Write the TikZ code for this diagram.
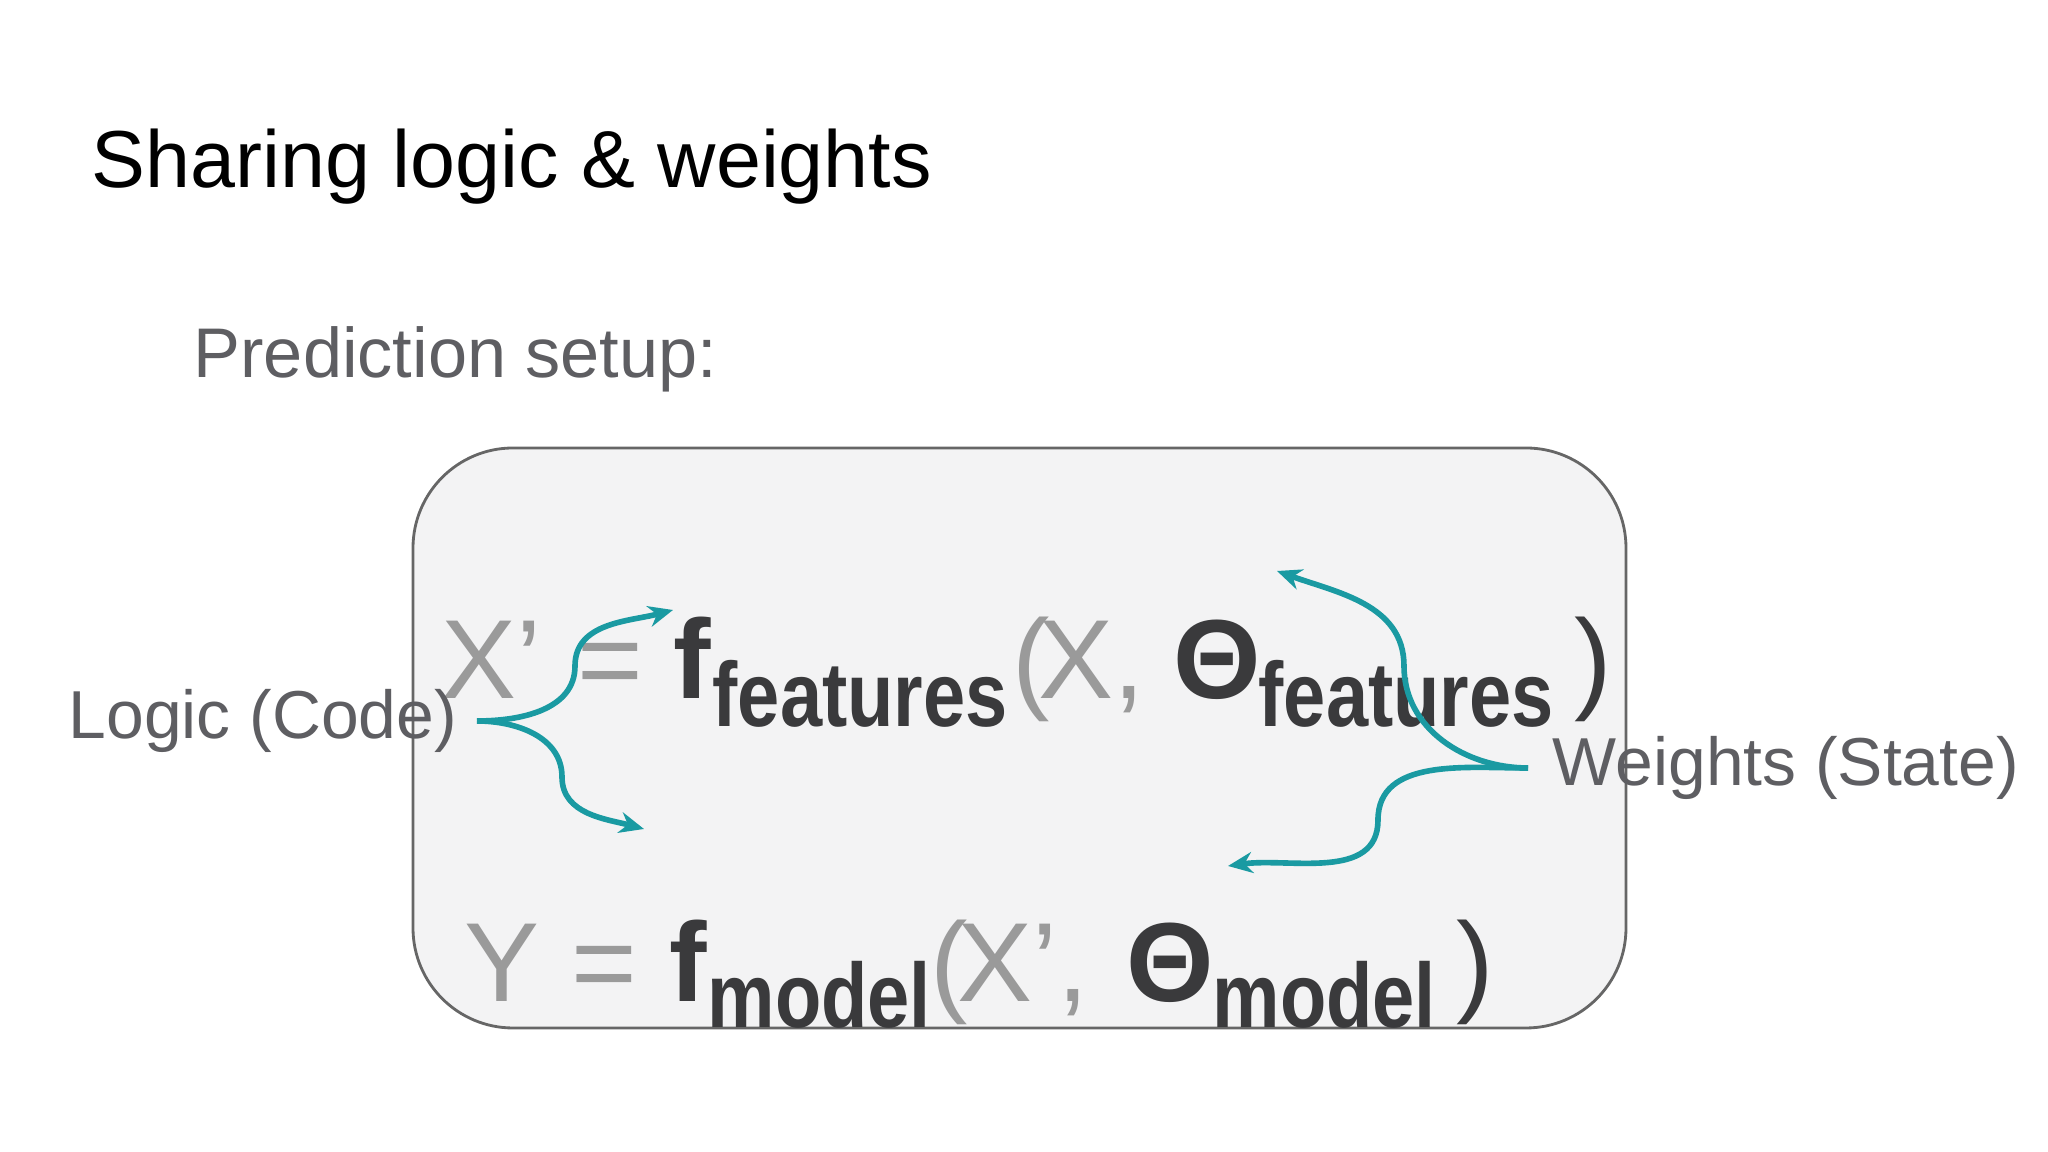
\documentclass[tikz,border=0pt]{standalone}
\usepackage{fontspec}
\usepackage{graphicx}
\setmainfont{Liberation Sans}
\usetikzlibrary{arrows.meta}
\definecolor{lg}{HTML}{9A9A9A}
\definecolor{dk}{HTML}{3A3A3C}
\definecolor{tx}{HTML}{5E5E62}
\definecolor{teal}{HTML}{1A9AA2}
\definecolor{boxf}{HTML}{F3F3F4}
\newcommand{\narrow}[1]{\scalebox{0.83}[1]{#1}}
\tikzset{
 big/.style={anchor=base west,inner sep=0pt,font=\fontsize{32}{36}\selectfont},
 lt/.style={big,text=lg},
 bd/.style={big,text=dk,font=\fontsize{32}{36}\selectfont\bfseries},
 sub/.style={anchor=base west,inner sep=0pt,text=dk,font=\fontsize{26}{30}\selectfont\bfseries},
 lab/.style={anchor=west,inner sep=0pt,text=tx,font=\fontsize{19.3}{23}\selectfont},
 conn/.style={teal,line width=1.6pt,-{Stealth[length=7pt,width=6pt]}}
}
\begin{document}
\begin{tikzpicture}
\useasboundingbox[fill=white] (0,0) rectangle (20.48,11.52);
\node[anchor=west,inner sep=0pt,font=\fontsize{23}{28}\selectfont] (title) at (0.91,9.85) {Sharing logic \& weights};
\node[lab,font=\fontsize{20}{24}\selectfont] (setup) at (1.93,7.93) {Prediction setup:};
\draw[fill=boxf,draw=gray!80!black,line width=0.8pt,rounded corners=1cm] (4.13,1.24) rectangle (16.26,7.04);
% line 1
\node[lt] (x1) at (4.41,4.53) {X’};
\node[lt] (eq1) at (5.77,4.53) {=};
\node[bd] (f1) at (6.73,4.53) {f};
\node[sub] (s1) at (7.12,4.25) {\narrow{features}};
\node[lt] (p1) at (10.12,4.53) {(};
\node[lt] (xx1) at (10.38,4.53) {X,};
\node[bd] (t1) at (11.73,4.53) {Θ};
\node[sub] (ts1) at (12.58,4.25) {\narrow{features}};
\node[big,text=dk] (q1) at (15.74,4.53) {)};
% line 2
\node[lt] (y2) at (4.64,1.50) {Y};
\node[lt] (eq2) at (5.71,1.50) {=};
\node[bd] (f2) at (6.69,1.50) {f};
\node[sub] (s2) at (7.07,1.24) {\narrow{model}};
\node[lt] (p2) at (9.30,1.50) {(};
\node[lt] (xx2) at (9.57,1.50) {X’,};
\node[bd] (t2) at (11.26,1.50) {Θ};
\node[sub] (ts2) at (12.12,1.24) {\narrow{model}};
\node[big,text=dk] (q2) at (14.56,1.50) {)};
% labels
\node[lab] (logic) at (0.68,4.31) {Logic (Code)};
\node[lab] (wts) at (15.52,3.84) {Weights (State)};
\coordinate (L) at (4.77,4.31);
\coordinate (m1) at (5.75,4.86);
\coordinate (m2) at (5.62,3.75);
\coordinate (tl1) at (6.73,5.42);
\coordinate (tl2) at (6.44,3.23);
\coordinate (R) at (15.28,3.84);
\coordinate (m3) at (14.04,4.86);
\coordinate (m4) at (13.78,3.32);
\coordinate (tr1) at (12.77,5.81);
\coordinate (tr2) at (12.28,2.86);
\draw[conn] (L) to[out=0,in=-90] (m1) to[out=90,in=195] (tl1);
\draw[conn] (L) to[out=0,in=90] (m2) to[out=-90,in=165] (tl2);
\draw[conn] (R) to[out=180,in=-90] (m3) to[out=90,in=-20] (tr1);
\draw[conn] (R) to[out=180,in=90] (m4) to[out=-90,in=8] (tr2);
\end{tikzpicture}
\end{document}
